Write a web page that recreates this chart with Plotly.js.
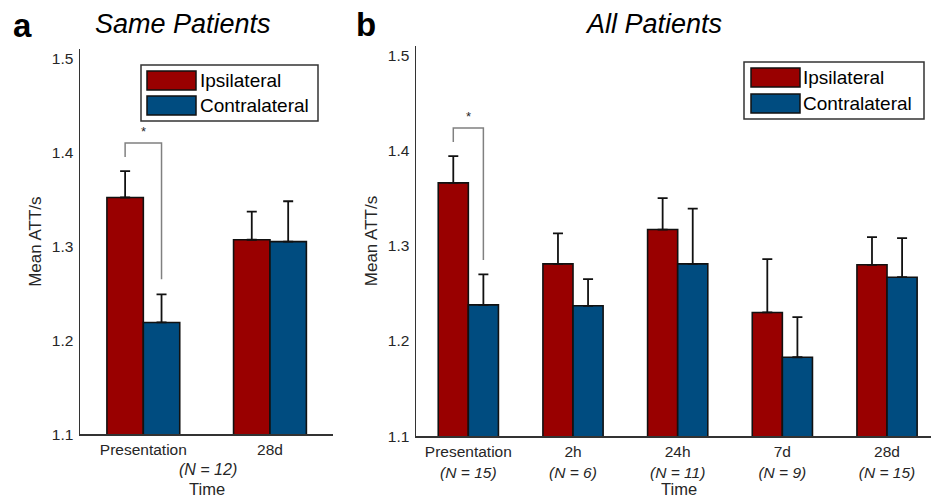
<!DOCTYPE html>
<html>
<head>
<meta charset="utf-8">
<script src="https://cdn.plot.ly/plotly-3.0.1.min.js"></script>
<style>html,body{margin:0;padding:0;background:#fff;}#chart{width:931px;height:498px;}</style>
</head>
<body>
<div id="chart"></div>
<script>
// ---------- data ----------
const seriesNames = ['Ipsilateral', 'Contralateral'];

// Panel a: Same Patients
const categoriesA = ['Presentation', '28d'];
const nA = 12;
const ipsiA = [1.352, 1.307];
const ipsiErrA = [0.028, 0.030];
const contraA = [1.219, 1.305];
const contraErrA = [0.030, 0.043];
const sigA = [1.395, 1.410, 1.265];   // bracket: left end, top, right end

// Panel b: All Patients
const categoriesB = ['Presentation', '2h', '24h', '7d', '28d'];
const nB = [15, 6, 11, 9, 15];
const ipsiB = [1.366, 1.281, 1.317, 1.230, 1.280];
const ipsiErrB = [0.028, 0.032, 0.033, 0.056, 0.029];
const contraB = [1.238, 1.237, 1.281, 1.183, 1.267];
const contraErrB = [0.032, 0.028, 0.058, 0.042, 0.041];
const sigB = [1.409, 1.4235, 1.285];

// ---------- styling ----------
const W = 931, H = 498;
const red = '#990000', blue = '#004c80';
const FONT = 'Liberation Sans, Arial, Helvetica, sans-serif';
const bargap = 0.425;
const hw = (1 - bargap) / 4;   // half width of one bar
const px = x => x / W;
const py = y => 1 - y / H;

function idx(arr) { return arr.map((_, i) => i + 1); }

function barTrace(x, y, err, name, color, xa, ya) {
  return {
    type: 'bar', x: x, y: y, name: name, xaxis: xa, yaxis: ya, showlegend: false,
    marker: {color: color, line: {color: '#111', width: 1.6}},
    error_y: {type: 'data', symmetric: false, array: err, arrayminus: err.map(() => 0),
              color: '#111', thickness: 1.8, width: 5},
    hoverinfo: 'x+y+name'
  };
}
function bracket(sig, xa, ya) {
  return {
    type: 'scatter', mode: 'lines', xaxis: xa, yaxis: ya, showlegend: false, hoverinfo: 'skip',
    x: [1 - hw, 1 - hw, 1 + hw, 1 + hw],
    y: [sig[0], sig[1], sig[1], sig[2]],
    line: {color: '#808080', width: 1.5}
  };
}

const xA = idx(categoriesA), xB = idx(categoriesB);
const data = [
  barTrace(xA, ipsiA, ipsiErrA, seriesNames[0], red, 'x', 'y'),
  barTrace(xA, contraA, contraErrA, seriesNames[1], blue, 'x', 'y'),
  bracket(sigA, 'x', 'y'),
  barTrace(xB, ipsiB, ipsiErrB, seriesNames[0], red, 'x2', 'y2'),
  barTrace(xB, contraB, contraErrB, seriesNames[1], blue, 'x2', 'y2'),
  bracket(sigB, 'x2', 'y2')
];

const TXT = '#262626';
const tickFont = {family: FONT, size: 15.5, color: TXT};
const yTickFont = {family: FONT, size: 15.5, color: TXT};
function xaxis(domain, n, ticktext, anchor) {
  return {
    domain: domain, anchor: anchor, range: [0.5, n], tickmode: 'array',
    tickvals: ticktext.map((_, i) => i + 1), ticktext: ticktext,
    showline: true, linecolor: '#333', linewidth: 1.5, showgrid: false, zeroline: false,
    ticks: '', tickfont: tickFont, ticklabelstandoff: 1, fixedrange: true
  };
}
function yaxis(domain, anchor) {
  return {
    domain: domain, anchor: anchor, range: [1.1, 1.51], tickmode: 'array',
    tickvals: [1.1, 1.2, 1.3, 1.4, 1.5], tickformat: '.1f',
    showline: true, linecolor: '#333', linewidth: 1.5, showgrid: false, zeroline: false,
    ticks: '', tickfont: yTickFont, ticklabelstandoff: 2, fixedrange: true,
    title: {text: 'Mean ATT/s', font: {family: FONT, size: 17, color: TXT}, standoff: 6}
  };
}

const ticktextB = categoriesB.map((c, i) => c + '<br><i>(N = ' + nB[i] + ')</i>');

const annotations = [
  {text: '<b>a</b>', x: px(22), y: py(26), font: {family: FONT, size: 33, color: '#000'}},
  {text: '<b>b</b>', x: px(366), y: py(24), font: {family: FONT, size: 33, color: '#000'}},
  {text: '<i>Same Patients</i>', x: px(183), y: py(24), font: {family: FONT, size: 27, color: '#000'}},
  {text: '<i>All Patients</i>', x: px(653), y: py(24), font: {family: FONT, size: 27, color: '#000'}},
  // x-axis titles
  {text: '<i>(N = ' + nA + ')</i>', x: px(207.5), y: py(469.5), font: {family: FONT, size: 16, color: TXT}},
  {text: 'Time', x: px(207), y: py(489), font: {family: FONT, size: 16.5, color: TXT}},
  {text: 'Time', x: px(678.5), y: py(489), font: {family: FONT, size: 16.5, color: TXT}},
  // significance stars
  {text: '*', xref: 'x', yref: 'y', x: 1, y: sigA[1], yanchor: 'bottom', yshift: 2,
   font: {family: FONT, size: 13, color: TXT}},
  {text: '*', xref: 'x2', yref: 'y2', x: 1, y: sigB[1], yanchor: 'bottom', yshift: 2,
   font: {family: FONT, size: 13, color: TXT}}
].map(a => Object.assign({xref: 'paper', yref: 'paper', showarrow: false, xanchor: 'center', yanchor: 'middle'}, a));

// manual legends (large colour patches like the original)
const shapes = [];
function addLegend(box, patchX, rows, textX) {
  shapes.push({type: 'rect', xref: 'paper', yref: 'paper', x0: px(box[0]), x1: px(box[1]),
               y0: py(box[2]), y1: py(box[3]), line: {color: '#333', width: 1.5}, fillcolor: '#fff'});
  rows.forEach((r, i) => {
    shapes.push({type: 'rect', xref: 'paper', yref: 'paper', x0: px(patchX[0]), x1: px(patchX[1]),
                 y0: py(r[0]), y1: py(r[1]), line: {color: '#111', width: 1.5}, fillcolor: [red, blue][i]});
    annotations.push({text: seriesNames[i], xref: 'paper', yref: 'paper', showarrow: false,
                      x: px(textX), y: py((r[0] + r[1]) / 2), xanchor: 'left', yanchor: 'middle',
                      font: {family: FONT, size: 19, color: '#000'}});
  });
}
addLegend([141, 318, 65, 121], [147, 196], [[71, 90], [96, 115]], 198);
addLegend([744, 924, 62, 119], [751, 800], [[68, 87], [94, 113]], 801);

const layout = {
  width: W, height: H, margin: {l: 0, r: 0, t: 0, b: 0},
  paper_bgcolor: '#fff', plot_bgcolor: 'rgba(0,0,0,0)',
  barmode: 'group', bargap: bargap, bargroupgap: 0,
  showlegend: false,
  xaxis: xaxis([px(80), px(333.3)], 2.5, categoriesA, 'y'),
  yaxis: yaxis([py(434.3), py(49)], 'x'),
  xaxis2: xaxis([px(416), 1], 5.42, ticktextB, 'y2'),
  yaxis2: yaxis([py(436.3), py(45.7)], 'x2'),
  annotations: annotations,
  shapes: shapes
};

Plotly.newPlot('chart', data, layout, {displayModeBar: false, staticPlot: true});
</script>
</body>
</html>
